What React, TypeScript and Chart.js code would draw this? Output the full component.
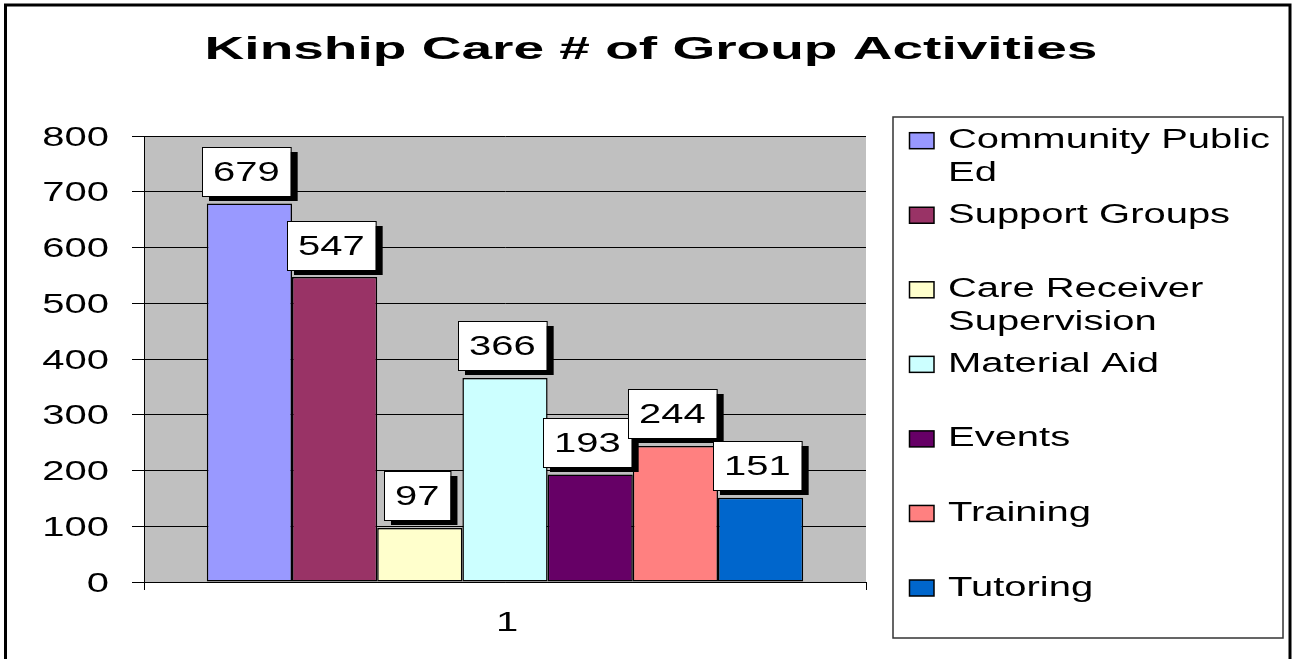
import React, { useEffect, useRef } from "react";
import { Chart, registerables } from "chart.js";

Chart.register(...registerables);

const TITLE = "Kinship Care # of Group Activities";
const CATEGORIES = ["1"];
const SERIES_NAMES = [
  "Community Public Ed",
  "Support Groups",
  "Care Receiver Supervision",
  "Material Aid",
  "Events",
  "Training",
  "Tutoring",
];
const SERIES_VALUES = [679, 547, 97, 366, 193, 244, 151];
const SERIES_COLORS = ["#9999FF", "#993366", "#FFFFCC", "#CCFFFF", "#660066", "#FF8080", "#0066CC"];
const Y_TICKS = [0, 100, 200, 300, 400, 500, 600, 700, 800];

const FONT = '"Liberation Sans", Arial, sans-serif';
const SX = 1.48;

function scaledText(ctx: CanvasRenderingContext2D, text: string, x: number, y: number, sx: number, align: CanvasTextAlign) {
  ctx.save();
  ctx.translate(x, y);
  ctx.scale(sx, 1);
  ctx.textAlign = align;
  ctx.textBaseline = "alphabetic";
  ctx.fillText(text, 0, 0);
  ctx.restore();
}

function wrap(ctx: CanvasRenderingContext2D, text: string, maxW: number, sx: number): string[] {
  const words = text.split(" ");
  const lines: string[] = [];
  let cur = "";
  for (const w of words) {
    const t = cur ? cur + " " + w : w;
    if (cur && ctx.measureText(t).width * sx > maxW) {
      lines.push(cur);
      cur = w;
    } else cur = t;
  }
  if (cur) lines.push(cur);
  return lines;
}

const decorPlugin = {
  id: "decor",
  beforeDraw(chart: any) {
    const { ctx, chartArea } = chart;
    ctx.save();
    ctx.fillStyle = "#FFFFFF";
    ctx.fillRect(0, 0, chart.width, chart.height);
    ctx.fillStyle = "#C0C0C0";
    ctx.fillRect(chartArea.left, chartArea.top, chartArea.right - chartArea.left, chartArea.bottom - chartArea.top);
    ctx.restore();
  },
  afterDatasetsDraw(chart: any) {
    const { ctx } = chart;
    ctx.save();
    ctx.font = `27px ${FONT}`;
    chart.data.datasets.forEach((ds: any, i: number) => {
      const meta = chart.getDatasetMeta(i);
      meta.data.forEach((bar: any, j: number) => {
        const txt = String(ds.data[j]);
        const tw = ctx.measureText(txt).width * SX;
        const w = tw + 22;
        const h = 49;
        const cx = bar.x - 3;
        const bottom = bar.y - 7.5;
        const left = Math.round(cx - w / 2);
        const top = Math.round(bottom - h);
        ctx.fillStyle = "#000";
        ctx.fillRect(left + 7, top + 5, w, h);
        ctx.fillStyle = "#FFF";
        ctx.fillRect(left, top, w, h);
        ctx.strokeStyle = "#000";
        ctx.lineWidth = 1;
        ctx.strokeRect(left + 0.5, top + 0.5, w, h);
        ctx.fillStyle = "#000";
        scaledText(ctx, txt, left + w / 2, top + h / 2 + 9.7, SX, "center");
      });
    });
    ctx.restore();
  },
  afterDraw(chart: any) {
    const { ctx } = chart;
    const yScale = chart.scales.y;
    const xScale = chart.scales.x;
    ctx.save();
    ctx.fillStyle = "#000";

    // title
    ctx.font = `bold 31px ${FONT}`;
    scaledText(ctx, TITLE, 651, 59, 1.775, "center");

    // y tick labels
    ctx.font = `27px ${FONT}`;
    Y_TICKS.forEach((v) => {
      const y = yScale.getPixelForValue(v);
      scaledText(ctx, String(v), 109, y + 9.7, SX, "right");
    });

    // x tick label
    CATEGORIES.forEach((c, i) => {
      const x = xScale.getPixelForValue(i);
      scaledText(ctx, c, x + 2, 631, SX, "center");
    });

    // legend box
    ctx.strokeStyle = "#333";
    ctx.lineWidth = 1.5;
    ctx.strokeRect(893, 117, 390, 521);

    ctx.font = `27px ${FONT}`;
    SERIES_NAMES.forEach((name, i) => {
      const mTop = 132.7 + 74.55 * i;
      ctx.fillStyle = SERIES_COLORS[i];
      ctx.fillRect(909, mTop, 25, 16);
      ctx.strokeStyle = "#000";
      ctx.lineWidth = 1.5;
      ctx.strokeRect(909.5, mTop, 24.5, 16);
      ctx.fillStyle = "#000";
      const lines = wrap(ctx, name, 335, SX);
      lines.forEach((ln, k) => {
        scaledText(ctx, ln, 948, mTop + 15.5 + k * 33, SX, "left");
      });
    });

    // outer frame
    ctx.strokeStyle = "#000";
    ctx.lineWidth = 3;
    ctx.strokeRect(5.5, 5, 1284.5, 700);
    ctx.restore();
  },
};

export default function App() {
  const ref = useRef<HTMLCanvasElement | null>(null);
  useEffect(() => {
    if (!ref.current) return;
    const chart = new Chart(ref.current, {
      type: "bar",
      data: {
        labels: CATEGORIES,
        datasets: SERIES_NAMES.map((name, i) => ({
          label: name,
          data: [SERIES_VALUES[i]],
          backgroundColor: SERIES_COLORS[i],
          borderColor: "#000",
          borderWidth: 1.5,
          borderSkipped: false,
          categoryPercentage: 0.826,
          barPercentage: 1,
        })),
      },
      options: {
        animation: false,
        responsive: false,
        devicePixelRatio: 1,
        layout: { padding: { left: 0, top: 136, right: 428, bottom: 0 } },
        plugins: {
          legend: { display: false },
          title: { display: false },
          tooltip: { enabled: false },
        },
        scales: {
          x: {
            ticks: { display: false },
            grid: { drawOnChartArea: false, drawTicks: true, tickLength: 8, color: "#000", offset: true },
            border: { display: true, color: "#000", width: 1 },
            afterFit: (s: any) => {
              s.height = 77;
            },
          },
          y: {
            min: 0,
            max: 800,
            ticks: { display: false, stepSize: 100 },
            grid: { color: "#000", lineWidth: 1, drawTicks: true, tickLength: 12 },
            border: { display: true, color: "#000", width: 1 },
            afterFit: (s: any) => {
              s.width = 144;
            },
          },
        },
      },
      plugins: [decorPlugin],
    });
    return () => chart.destroy();
  }, []);
  return (
    <div style={{ position: "fixed", left: 0, top: 0, width: 1294, height: 659 }}>
      <canvas ref={ref} width={1294} height={659} />
    </div>
  );
}
